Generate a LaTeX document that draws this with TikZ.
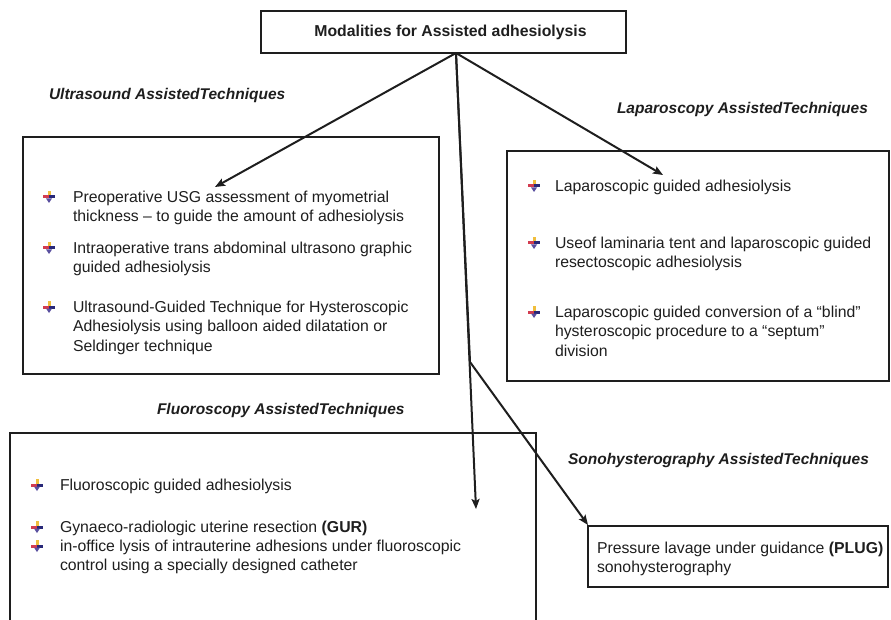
\documentclass[tikz,border=0pt]{standalone}
\usepackage{fontspec}
\setmainfont{Liberation Sans}
\usetikzlibrary{arrows.meta}
\definecolor{bulyel}{RGB}{240,190,60}
\definecolor{bulred}{RGB}{210,60,80}
\definecolor{bulblue}{RGB}{40,40,120}
\definecolor{bulvio}{RGB}{90,80,160}
\definecolor{ink}{RGB}{30,30,30}
\begin{document}
\begin{tikzpicture}[x=1pt,y=-1pt,
  every node/.style={inner sep=0pt, outer sep=0pt},
  body/.style={font=\fontsize{15.8}{19.5}\selectfont, align=left, anchor=north west, text=ink},
  lab/.style={font=\fontsize{15.5}{18}\selectfont\bfseries\itshape, anchor=west, text=ink},
  frame/.style={draw=ink, line width=1.4pt},
  conn/.style={draw=ink, line width=2pt, -{Stealth[length=10pt,width=8pt,inset=2pt]}},
  bul/.pic={
    \fill[bulyel] (-1.5,-6) rectangle (1.5,0);
    \fill[bulred] (-6,-1.5) rectangle (0,1.5);
    \fill[bulblue] (0,-1.5) rectangle (6,1.5);
    \fill[bulvio] (-3,1.5) -- (3,1.5) -- (0,6) -- cycle;
  }
]
\useasboundingbox (0,0) rectangle (891,620);
\clip (0,0) rectangle (891,620);

% title
\node[frame, minimum width=365pt, minimum height=42pt] (title) at (443.5,32) {};
\node[font=\fontsize{15.8}{19}\selectfont\bfseries, text=ink] (titletext) at (450.5,32) {Modalities for Assisted adhesiolysis};

% labels
\node[lab] (labU) at (49,95) {Ultrasound AssistedTechniques};
\node[lab] (labL) at (617,109) {Laparoscopy AssistedTechniques};
\node[lab] (labF) at (157,410) {Fluoroscopy AssistedTechniques};
\node[lab] (labS) at (568,460) {Sonohysterography AssistedTechniques};

% boxes
\node[frame, anchor=north west, minimum width=416pt, minimum height=237pt] (usbox) at (23,137) {};
\node[frame, anchor=north west, minimum width=382pt, minimum height=230pt] (lpbox) at (507,151) {};
\node[frame, anchor=north west, minimum width=526pt, minimum height=260pt] (flbox) at (10,433) {};
\node[frame, anchor=north west, minimum width=300pt, minimum height=61pt] (sobox) at (588,526) {};

% ultrasound items
\node[body] (u1) at (73,191) {Preoperative USG assessment of myometrial\\thickness – to guide the amount of adhesiolysis};
\node[body] (u2) at (73,242) {Intraoperative trans abdominal ultrasono graphic\\guided adhesiolysis};
\node[body] (u3) at (73,301) {Ultrasound-Guided Technique for Hysteroscopic\\Adhesiolysis using balloon aided dilatation or\\Seldinger technique};
\pic at (49,197) {bul};
\pic at (49,248) {bul};
\pic at (49,307) {bul};

% laparoscopy items
\node[body] (l1) at (555,180) {Laparoscopic guided adhesiolysis};
\node[body] (l2) at (555,237) {Useof laminaria tent and laparoscopic guided\\resectoscopic adhesiolysis};
\node[body] (l3) at (555,306) {Laparoscopic guided conversion of a “blind”\\hysteroscopic procedure to a “septum”\\division};
\pic at (534,186) {bul};
\pic at (534,243) {bul};
\pic at (534,312) {bul};

% fluoroscopy items
\node[body] (f1) at (60,479) {Fluoroscopic guided adhesiolysis};
\node[body] (f2) at (60,521) {Gynaeco-radiologic uterine resection \textbf{(GUR)}};
\node[body] (f3) at (60,540) {in-office lysis of intrauterine adhesions under fluoroscopic\\control using a specially designed catheter};
\pic at (37,485) {bul};
\pic at (37,527) {bul};
\pic at (37,546) {bul};

% sono text
\node[body] (s1) at (597,542) {Pressure lavage under guidance \textbf{(PLUG)}\\sonohysterography};

% connectors
\coordinate (o) at (456,53);
\coordinate (tipU) at (215,187);
\coordinate (tipL) at (663,175);
\coordinate (tipF) at (476,509);
\coordinate (br) at (470,362);
\coordinate (tipS) at (588,525);
\draw[conn] (o) -- (tipU);
\draw[conn] (o) -- (tipL);
\draw[conn] (o) -- (tipF);
\draw[conn] (o) -- (br) -- (tipS);
\end{tikzpicture}
\end{document}
